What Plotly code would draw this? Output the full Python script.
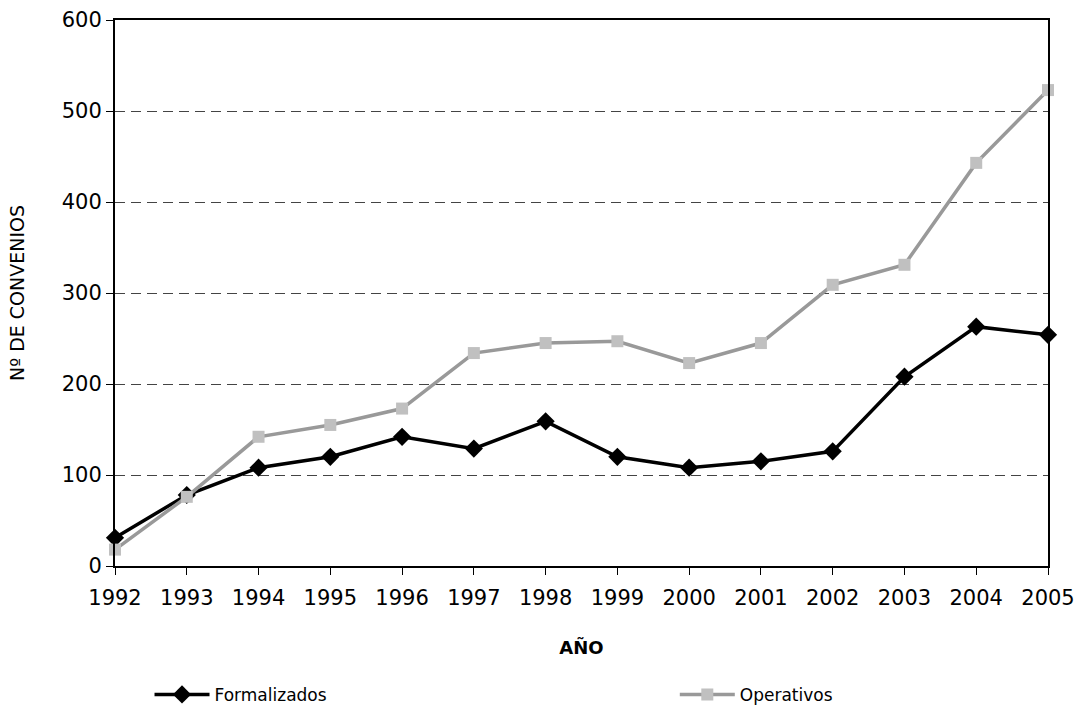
import plotly.graph_objects as go

years = list(range(1992, 2006))
formalizados = [31, 78, 108, 120, 142, 129, 159, 120, 108, 115, 126, 208, 263, 254]
operativos = [18, 76, 142, 155, 173, 234, 245, 247, 223, 245, 309, 331, 443, 523]

fig = go.Figure()
fig.add_trace(go.Scatter(
    x=years, y=formalizados, name="Formalizados", mode="lines+markers",
    line=dict(color="#000000", width=3.5),
    marker=dict(symbol="diamond", size=14, color="#000000"),
    cliponaxis=False, legend="legend",
))
fig.add_trace(go.Scatter(
    x=years, y=operativos, name="Operativos", mode="lines+markers",
    line=dict(color="#999999", width=3.5),
    marker=dict(symbol="square", size=12, color="#c0c0c0"),
    cliponaxis=False, legend="legend2",
))

legend_font = dict(family="DejaVu Sans, sans-serif", size=17, color="#000000")
fig.update_layout(
    width=1081, height=710,
    margin=dict(l=115, r=33, t=20, b=144, autoexpand=False),
    paper_bgcolor="white", plot_bgcolor="white",
    font=dict(family="DejaVu Sans, sans-serif", color="#000000"),
    showlegend=True,
    legend=dict(orientation="h", x=0.037, xanchor="left", y=-0.236, yanchor="middle",
                font=legend_font, bgcolor="rgba(0,0,0,0)", itemwidth=55),
    legend2=dict(orientation="h", x=0.6, xanchor="left", y=-0.236, yanchor="middle",
                 font=legend_font, bgcolor="rgba(0,0,0,0)", itemwidth=55),
)

fig.update_xaxes(
    range=[1992, 2005], tickmode="array", tickvals=years,
    ticktext=[str(y) for y in years],
    showline=True, linecolor="#000000", linewidth=2, mirror=True,
    ticks="outside", ticklen=7, tickcolor="#000000", tickwidth=1,
    ticklabelstandoff=5,
    showgrid=False, zeroline=False,
    tickfont=dict(size=21),
    title=dict(text="<b>AÑO</b>", font=dict(size=18), standoff=32),
)
fig.update_yaxes(
    range=[0, 600], tickvals=[0, 100, 200, 300, 400, 500, 600],
    showline=True, linecolor="#000000", linewidth=2, mirror=True,
    ticks="outside", ticklen=7, tickcolor="#000000", tickwidth=1,
    showgrid=True, gridcolor="#444444", gridwidth=1, griddash="10px,6px",
    zeroline=False,
    tickfont=dict(size=21),
    title=dict(text="Nº DE CONVENIOS", font=dict(size=19), standoff=32),
)

fig.write_html("out.html")
